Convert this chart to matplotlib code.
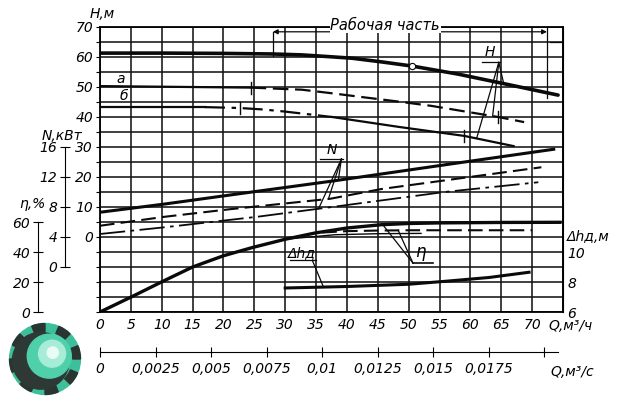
import numpy as np
import matplotlib.pyplot as plt
from matplotlib import font_manager
from matplotlib.patches import Circle, Wedge

names = {f.name for f in font_manager.fontManager.ttflist}
base = 'Liberation Sans Narrow' if 'Liberation Sans Narrow' in names else 'DejaVu Sans'
fs = 12 if base == 'Liberation Sans Narrow' else 10
plt.rcParams['font.family'] = [base, 'DejaVu Sans']
plt.rcParams['font.style'] = 'italic'
plt.rcParams['font.size'] = fs

# --- axis ticks ---
q_ticks = list(range(0, 76, 5))
q_labels = [str(q) for q in range(0, 71, 5)] + ['']
h_ticks = list(range(-25, 71, 5))
h_labels = [str(h) if (h >= 0 and h % 10 == 0) else '' for h in h_ticks]
n_ticks = [0, 4, 8, 12, 16]
eta_ticks = [0, 20, 40, 60]
dh_ticks = [6, 8, 10]
qs_ticks = [0, 0.0025, 0.005, 0.0075, 0.01, 0.0125, 0.015, 0.0175, 0.02]
qs_labels = ['0', '0,0025', '0,005', '0,0075', '0,01', '0,0125', '0,015', '0,0175', '']

# --- head H, m ---
q_H = [0, 10, 20, 28, 32.7, 36.5, 40.8, 45.5, 50.5, 58, 65, 74.2]
H_main = [61.3, 61.3, 61.2, 61.0, 60.7, 60.2, 59.6, 58.4, 57.0, 54.3, 51.3, 47.3]
q_Ha = [0, 24.4, 32.7, 37.6, 43, 48.9, 53.7, 64.5, 68.7]
H_a = [50.3, 49.8, 49.1, 47.9, 46.5, 45.0, 43.7, 40.0, 38.3]
q_Hb = [0, 17, 22.6, 26.5, 30, 37.6, 48.4, 59, 67]
H_b = [43.3, 43.3, 43.0, 42.5, 41.8, 40.0, 36.7, 33.7, 30.3]

# --- power N, kW ---
q_N = [0, 10.5, 20.2, 25.5, 38, 56.5, 73.5]
N_main = [7.3, 8.4, 9.5, 10.1, 11.5, 13.7, 15.7]
q_Na = [0, 10.5, 21, 37.3, 45.6, 71.5]
N_a = [5.5, 6.7, 7.7, 9.1, 10.4, 13.3]
q_Nb = [0, 10.5, 25.5, 37.6, 55.8, 71]
N_b = [4.4, 5.3, 6.7, 8.0, 10.0, 11.3]

# --- efficiency, % ---
q_eta = [0, 5.3, 10.2, 15, 20, 24.7, 30, 35, 40, 45.6, 50, 55, 65, 74.5]
eta_main = [0, 10.5, 20.5, 30, 37.5, 43, 48.5, 52.8, 56, 58.2, 59.0, 59.4, 59.7, 59.8]
q_eta_a = [36, 40, 45, 50, 60, 70]
eta_a = [53.0, 53.9, 54.3, 54.5, 54.5, 54.5]
q_eta_b = [30, 38, 45, 52]
eta_b = [48.5, 51.5, 52.2, 52.4]

# --- NPSH dh, m ---
q_dh = [30, 40, 50, 56, 63, 69.5]
dh = [7.6, 7.7, 7.85, 8.05, 8.3, 8.65]


def h2n(h): return (np.asarray(h) + 10) / 2.5
def n2h(n): return np.asarray(n) * 2.5 - 10
def h2eta(h): return 2 * (np.asarray(h) + 25)
def eta2h(e): return np.asarray(e) / 2 - 25
def h2dh(h): return 6 + (np.asarray(h) + 25) / 5
def dh2h(d): return 5 * (np.asarray(d) - 6) - 25


fig = plt.figure(figsize=(6.28, 4.0), dpi=100)
ax = fig.add_axes([100 / 628, 88 / 400, 463 / 628, 285 / 400])
ax.set_xlim(0, 75)
ax.set_ylim(-25, 70)
ax.set_xticks(q_ticks, labels=q_labels)
ax.set_yticks(h_ticks, labels=h_labels)
ax.grid(True, color='#151515', lw=1.15)
ax.tick_params(axis='x', length=0, pad=4)
ax.tick_params(axis='y', length=3, pad=2)
for s in ax.spines.values():
    s.set_linewidth(1.3)

k = '#0a0a0a'
# H curves
ax.plot(q_H, H_main, color=k, lw=2.6, solid_capstyle='round')
ax.plot(q_H[8], H_main[8], 'o', ms=4.5, mfc='white', mec=k, mew=0.8)
ax.plot(q_Ha[:2], H_a[:2], color=k, lw=1.6)
ax.plot(q_Ha[1:], H_a[1:], color=k, lw=1.6, ls=(0, (7, 3)))
ax.plot(q_Hb[:2], H_b[:2], color=k, lw=1.6)
ax.plot(q_Hb[1:6], H_b[1:6], color=k, lw=1.6, ls=(0, (9, 3, 2, 3)))
ax.plot(q_Hb[5:], H_b[5:], color=k, lw=1.6)
for q, qq, hh in [(24.4, q_Ha, H_a), (64.5, q_Ha, H_a), (22.6, q_Hb, H_b), (59, q_Hb, H_b)]:
    y = np.interp(q, qq, hh)
    ax.plot([q, q], [y - 2, y + 2], color=k, lw=1.0)

# N curves
ax.plot(q_N, n2h(N_main), color=k, lw=2.2)
ax.plot(q_Na, n2h(N_a), color=k, lw=1.5, ls=(0, (7, 3)))
ax.plot(q_Nb, n2h(N_b), color=k, lw=1.3, ls=(0, (14, 3, 2, 3)))

# efficiency curves
ax.plot(q_eta, eta2h(eta_main), color=k, lw=2.4)
ax.plot(q_eta_a, eta2h(eta_a), color=k, lw=1.5, ls=(0, (7, 3)))
ax.plot(q_eta_b, eta2h(eta_b), color=k, lw=1.0)

# NPSH curve
ax.plot(q_dh, dh2h(dh), color=k, lw=2.2)

# --- secondary scales ---
sec_n = ax.secondary_yaxis(-0.0756, functions=(h2n, n2h))
sec_n.set_yticks(n_ticks)
sec_n.spines['left'].set_bounds(0, 16)
sec_n.tick_params(direction='inout', length=7, pad=2)

sec_e = ax.secondary_yaxis(-0.134, functions=(h2eta, eta2h))
sec_e.set_yticks(eta_ticks)
sec_e.spines['left'].set_bounds(0, 60)
sec_e.tick_params(direction='inout', length=7, pad=2)

sec_d = ax.secondary_yaxis('right', functions=(h2dh, dh2h))
sec_d.set_yticks(dh_ticks)
sec_d.tick_params(length=0, pad=3)

sec_q = ax.secondary_xaxis(-0.1404, functions=(lambda q: np.asarray(q) / 3600, lambda s: np.asarray(s) * 3600))
sec_q.set_xticks(qs_ticks, labels=qs_labels)
sec_q.spines['bottom'].set_bounds(0, 0.0206)
sec_q.tick_params(direction='inout', length=7, pad=4)

# --- axis titles ---
ax.text(0.3, 74.3, 'H,м', ha='center', va='center', clip_on=False)
ax.text(-6.2, 33.7, 'N,кВт', ha='center', va='center', clip_on=False)
ax.text(-10.9, 11, 'η,%', ha='center', va='center', clip_on=False)
ax.text(75.6, 0, 'Δhд,м', ha='left', va='center', clip_on=False)
ax.text(72.7, -29.7, 'Q,м³/ч', ha='left', va='center', clip_on=False)
ax.text(72.9, -45, 'Q,м³/с', ha='left', va='center', clip_on=False)

# working range dimension
ax.annotate('', xy=(28, 68.4), xytext=(72.4, 68.4),
            arrowprops=dict(arrowstyle='<|-|>', lw=0.9, color=k, mutation_scale=7,
                            shrinkA=0, shrinkB=0), annotation_clip=False)
ax.plot([28, 28], [68.4, 60.5], color=k, lw=0.9)
ax.plot([72.4, 72.4], [70, 46.5], color=k, lw=0.9)
ax.plot([72.9, 75], [65, 65], color=k, lw=0.9)
ax.text(46.2, 70.6, 'Рабочая часть', ha='center', va='center', fontsize=fs + 0.5,
        bbox=dict(fc='white', ec='none', pad=0.5), clip_on=False)

# curve labels with leaders
ax.text(3.4, 52.7, 'а', ha='center', va='center')
ax.text(3.9, 47.0, 'б', ha='center', va='center')

ax.text(63.1, 61.6, 'H', ha='center', va='center')
ax.plot([61.9, 64.8], [58.3, 58.3], color=k, lw=0.9)
for q, qq, hh in [(65.4, q_H, H_main), (63.6, q_Ha, H_a), (61.0, q_Hb, H_b)]:
    ax.plot([64.6, q], [58.2, np.interp(q, qq, hh)], color=k, lw=0.9)

ax.text(37.6, 29.0, 'N', ha='center', va='center')
ax.plot([35.7, 39.3], [26.0, 26.0], color=k, lw=0.9)
for q, qq, nn in [(38.6, q_N, N_main), (37.0, q_Na, N_a), (35.4, q_Nb, N_b)]:
    ax.plot([39.1, q], [26.0, n2h(np.interp(q, qq, nn))], color=k, lw=0.9)

ax.text(51.9, -5.0, 'η', ha='center', va='center', fontsize=fs + 2)
ax.plot([50.7, 54.0], [-8.7, -8.7], color=k, lw=1.2)
for q, qq, ee in [(45.8, q_eta, eta_main), (48.3, q_eta_a, eta_a)]:
    ax.plot([50.7, q], [-8.7, eta2h(np.interp(q, qq, ee))], color=k, lw=0.9)

ax.text(32.7, -5.2, 'Δhд', ha='center', va='center')
ax.plot([30.8, 35.0], [-7.6, -7.6], color=k, lw=0.9)
ax.plot([34.4, 36.2], [-7.8, dh2h(np.interp(36.2, q_dh, dh))], color=k, lw=0.9)

# --- logo ---
lg = fig.add_axes([6 / 628, 2 / 400, 78 / 628, 78 / 400])
lg.set_aspect('equal')
lg.set_xlim(-1.1, 1.1)
lg.set_ylim(-1.1, 1.1)
lg.axis('off')
lg.add_patch(Circle((0, 0), 1.0, color='#3dbf9c'))
for a in range(0, 360, 45):
    lg.add_patch(Wedge((0, 0), 1.0, a, a + 22, width=0.22, color='#2a3431'))
lg.add_patch(Circle((-0.12, -0.05), 0.8, color='#2e3835'))
lg.add_patch(Circle((0.12, 0.08), 0.62, color='#4fcfaa'))
lg.add_patch(Circle((0.2, 0.15), 0.38, color='#a6ecd6'))
lg.add_patch(Circle((0.22, 0.18), 0.16, color='#e8fbf4'))

fig.savefig('out.png', dpi=100)
